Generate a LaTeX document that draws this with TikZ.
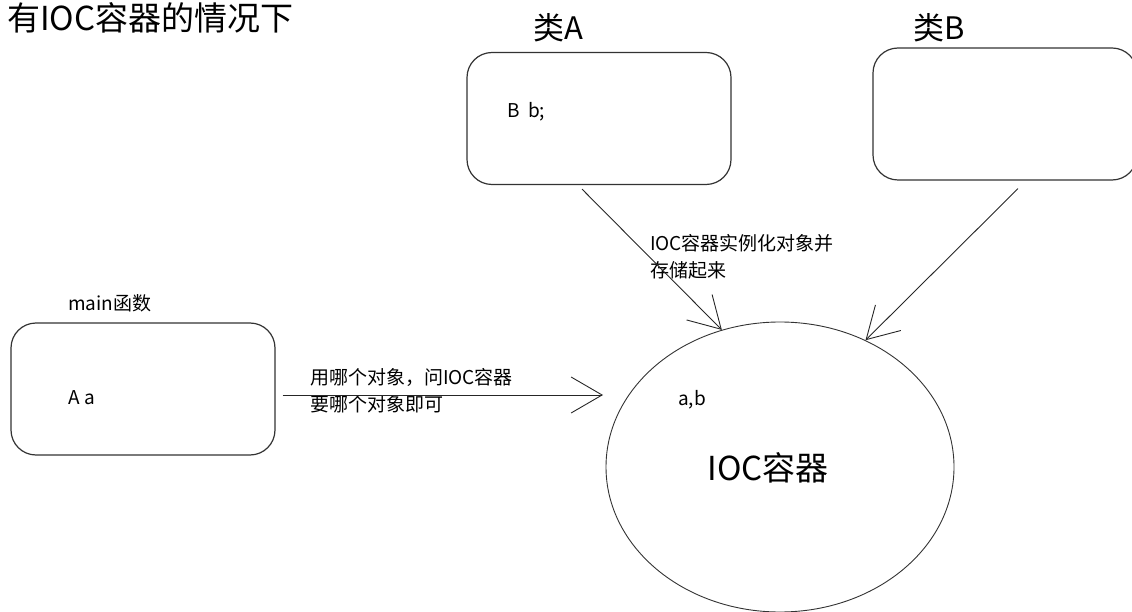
\documentclass[tikz,border=0pt]{standalone}
\usepackage{fontspec}
\setmainfont{Noto Sans CJK SC}
\usetikzlibrary{arrows.meta, positioning, shapes.geometric}

\tikzset{
  box/.style={draw=black!80, line width=1.2pt, rounded corners=25pt, minimum width=264pt, minimum height=132pt},
  txt/.style={inner sep=0pt, font=\fontsize{19}{27}\selectfont},
  bigtxt/.style={inner sep=0pt, font=\fontsize{31}{36}\selectfont},
  arr/.style={-{Straight Barb[length=31pt, width=36pt]}, draw=black!85, line width=0.9pt},
}

\begin{document}
\begin{tikzpicture}[x=1pt, y=-1pt]
\useasboundingbox (0,0) rectangle (1132,612);
%
\node[bigtxt, anchor=west, font=\fontsize{33}{38}\selectfont] (title) at (7,18) {有IOC容器的情况下};
% boxes
\node[box] (mainbox) at (143,389) {};
\node[box] (clsA) at (599,118.5) {};
\node[box] (clsB) at (1005,114) {};
\node[ellipse, draw=black!80, line width=0.9pt, minimum width=348pt, minimum height=290pt] (ioc) at (780,467) {};
% labels
\node[txt, anchor=west] (mainlbl) at (68,303) {main函数};
\node[txt, anchor=west] (avar) at (68,398) {A a};
\node[bigtxt] (clsAlbl) at (558,28) {类A};
\node[bigtxt] (clsBlbl) at (939,28) {类B};
\node[txt, anchor=west] (bvar) at (507,112) {B\ \ b;};
\node[txt, anchor=west] (objs) at (678,400) {a,b};
\node[bigtxt, font=\fontsize{33}{38}\selectfont] (ioclbl) at (768,468) {IOC容器};
\node[txt, anchor=west, align=left] (store) at (650,257) {IOC容器实例化对象并\\存储起来};
\node[txt, anchor=west, align=left] (ask) at (310,391) {用哪个对象，问IOC容器\\要哪个对象即可};
% connectors
\coordinate (askend) at (603,395);
\draw[arr] ([xshift=7pt, yshift=-6pt]mainbox.east) -- (askend);
\draw[arr] ([xshift=-17pt, yshift=-4pt]clsA.south) -- (ioc.113.7);
\draw[arr] ([xshift=13pt, yshift=-8pt]clsB.south) -- (ioc.56);
\end{tikzpicture}
\end{document}
